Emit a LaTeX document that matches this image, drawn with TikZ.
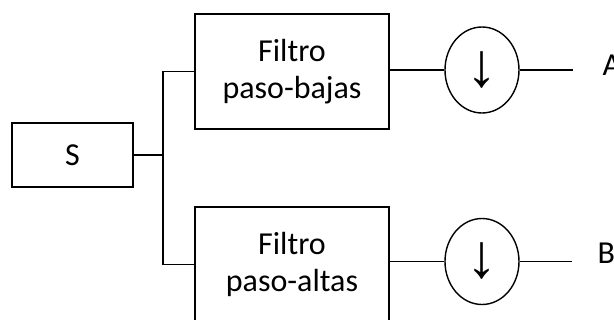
\documentclass[tikz,border=0pt]{standalone}
\usepackage{fontspec}
\setmainfont{Carlito}
\newfontfamily\symfont{Liberation Sans}
\usetikzlibrary{shapes.geometric}
\begin{document}
\begin{tikzpicture}[x=1pt,y=-1pt,
  line width=1.4pt,
  box/.style={draw, rectangle, inner sep=0pt},
  filt/.style={box, minimum width=194pt, minimum height=115pt, align=center, font=\fontsize{32}{37}\selectfont},
  down/.style={draw, ellipse, inner sep=0pt, minimum width=74pt, minimum height=86pt, font=\symfont\fontsize{62}{62}\selectfont},
  lbl/.style={font=\fontsize{32}{37}\selectfont, inner sep=0pt, anchor=base west}]
\useasboundingbox (0,0) rectangle (614,320);
\clip (0,0) rectangle (614,320);
\node[box, minimum width=121pt, minimum height=64pt, font=\fontsize{32}{37}\selectfont] (s) at (72.5,155) {S};
\node[filt] (lp) at (292,71.5) {Filtro\\paso-bajas};
\node[filt] (hp) at (292,264.5) {Filtro\\paso-altas};
\node[down] (d1) at (482,70) {↓};
\node[down] (d2) at (482,261.5) {↓};
\coordinate (j) at (163,155);
\coordinate (oa) at (573,70);
\coordinate (ob) at (572,261.5);
\node[lbl] (a) at (602,76) {A};
\node[lbl] (b) at (597,264) {B};
\draw (s.east) -- (j);
\draw (lp.west) -| (j) |- (hp.west);
\draw (d1.west -| lp.east) -- (d1.west);
\draw (d2.west -| hp.east) -- (d2.west);
\draw (d1.east) -- (oa);
\draw (d2.east) -- (ob);
\end{tikzpicture}
\end{document}
